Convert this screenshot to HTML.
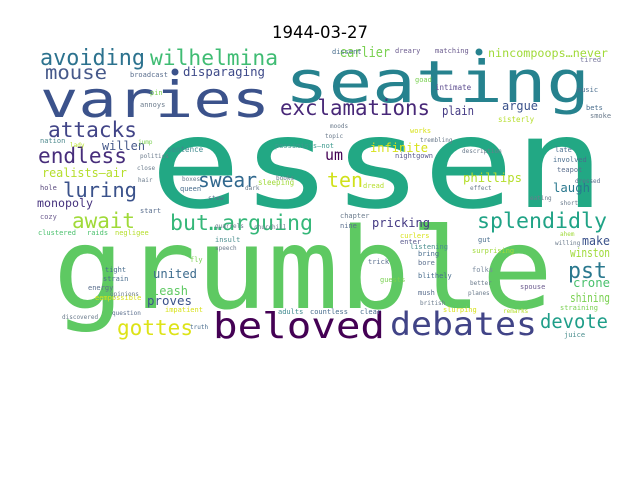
<!DOCTYPE html>
<html><head><meta charset="utf-8">
<style>
html,body{margin:0;padding:0;background:#fff;}
svg{display:block;}
text{font-family:"DejaVu Sans Mono","Liberation Mono",monospace;}
</style></head>
<body>
<svg id="chart" width="640" height="480" viewBox="0 0 640 480" xmlns="http://www.w3.org/2000/svg">
<rect width="640" height="480" fill="#ffffff"/>
<text x="320" y="38" text-anchor="middle" font-size="16.5" fill="#000" style="font-family:'DejaVu Sans','Liberation Sans',sans-serif">1944-03-27</text>
<g id="cloud"></g>
</svg>
<script>
// word cloud data: words, their weights (font size), colours, layout
const words = ["essen","grumble","varies","seating","beloved","debates",
"avoiding","wilhelmina","mouse","disparaging","exclamations","attacks","endless","realists—air","luring","swear","monopoly","willen",
"earlier","nincompoops…never","argue","plain","infinite","um","ten","phillips","laugh",
"await","but…arguing","united","leash","proves","gottes","splendidly","pricking","make","winston","pst","crone","shining","devote",
"broadcast","pin","annoys","nation","sentence","pessimists—not","hole","queen","sleeping","stew","dreary","matching","dissent","goad","intimate","music","bets","tired","sisterly","smoke","nightgown","dread","late","involved","teapot","works","cozy","start","clustered","raids","negligee","insult","fly","tight","strain","energy","impatient","adults","countless","clear","chapter","nine","curlers","enter","listening","bring","trick","bore","blithely","folks","gut","surprising","guests","mush","slurping","spouse","straining","juice","eempossible","question","discovered","opinions","truth","lady","jump","politics","close","hair","books","dark","boxes","dressed","short","eating","effect","description","topic","moods","trembling","british","remarks","planes","better","ahem","willing","quarrels","speech","churchill","frank"];
const weights = [125,112,50,58,36,32,
22,21,19,12.5,21,21,21,12,20,20,11.7,12,
13.8,11.8,12,12,12,15,20,12,12,
21,21.5,12,12,12,21,21.5,12,12,12.5,22,12,12,19.5,
7,7,7,7,7.5,7,7,7,7.5,6.5,7,7,7,7,7.5,7,7,7,7.5,7,7,7,7,7,7,7,7,7,7,7,7,7,7,7,7,7,7,7,7,7,7,7,7,7,7,7,7,7,7,7,7,7,7,7,7,7,7,7,7,6,6,6,6,6,6,6,6,6,6,6,6,6,6,6,6,6,6,6,6,6,6,6,6,6,6,6,6,6,6];
const colors = ["#22a884","#5ec962","#3b528b","#26828e","#440154","#414487",
"#2c728e","#3fbc73","#46598a","#3e4a89","#482878","#414487","#472d7b","#b5de2b","#3b528b","#31688e","#46337e","#46598a",
"#7ad151","#a0da39","#3b528b","#443983","#d8e219","#440154","#d0e11c","#b5de2b","#2a788e",
"#a0da39","#35b779","#3e6c8e","#5ec962","#3b528b","#dde318","#20a386","#443983","#3b528b","#a0da39","#2a788e","#4ac16d","#7ad151","#1f9e89",
"#5b6f8e","#7ad151","#6b7b8c","#4e8a8e","#3e8a8e","#3e9a8e","#5a4a7e","#4a6e8e","#a0da39","#5b6f8e","#6b5b8e","#6b5b8e","#4a6e8e","#7ad151","#5b4b8e","#4a6e8e","#4a6e8e","#7a7a9e","#b5de2b","#6b7b8c","#5b5b8e","#b5de2b","#4a6e8e","#4a6e8e","#5b6f8e","#d8e219","#6b5b8e","#5b6f8e","#4ac16d","#4ac16d","#b5de2b","#4a8e8e","#7ad151","#4a6e8e","#4a6e8e","#5b6f8e","#d8e219","#3e8a8e","#4a6e8e","#4a6e8e","#6b7b8c","#5b6f8e","#d8e219","#5b5b8e","#4a8e8e","#4a6e8e","#5b6f8e","#5b6f8e","#4a6e8e","#7a8a9e","#4a6e8e","#a0da39","#7ad151","#5b6f8e","#d8e219","#6b5b8e","#7ad151","#4a8e8e","#d8e219","#5b6f8e","#6b7b8c","#6b7b8c","#4a6e8e","#b5de2b","#7ad151","#6b7b8c","#6b7b8c","#6b7b8c","#6b7b8c","#6b7b8c","#6b7b8c","#5b6f8e","#6b7b8c","#6b7b8c","#6b7b8c","#6b7b8c","#6b7b8c","#6b7b8c","#6b7b8c","#6b7b8c","#b5de2b","#6b7b8c","#6b7b8c","#a0da39","#6b7b8c","#6b7b8c","#6b7b8c","#6b7b8c","#6b7b8c"];
// layout: [x, baseline, fitted width (0 = natural), rotation]
const layout = [[150,207,455,0],[53,308,500,0],[40,117,230,0],[285,102,305,0],[213,338,172,0],[390,335,147,0],
[40,65,105,0],[150,65,128,0],[45,79,62,0],[183,76,82,0],[280,115,150,0],[48,137,89,0],[38,163,89,0],[42,177,85,0],[63,197,74,0],[198,187,59,0],[37,207,56,0],[102,150,43,0],
[340,57,50,0],[488,57,120,0],[502,110,36,0],[442,115,32,0],[370,152,58,0],[325,160,18,0],[327,187,36,0],[463,182,59,0],[553,192,37,0],
[72,228,63,0],[170,230,143,0],[153,278,44,0],[152,295,36,0],[147,305,45,0],[117,335,76,0],[477,228,130,0],[372,227,58,0],[582,245,28,0],[570,257,40,0],[568,278,39,0],[573,287,37,0],[570,302,40,0],[540,328,68,0],
[130,77,0,0],[150,95,0,0],[140,107,0,0],[40,143,0,0],[167,152,0,0],[275,148,0,0],[40,190,0,0],[180,191,0,0],[258,185,0,0],[208,200,0,0],[395,53,0,0],[435,53,0,0],[332,54,0,0],[415,82,0,0],[435,90,0,0],[577,92,0,0],[586,110,0,0],[580,62,0,0],[498,122,0,0],[590,118,0,0],[395,158,0,0],[363,188,0,0],[555,152,0,0],[553,162,0,0],[557,172,0,0],[410,133,0,0],[40,219,0,0],[140,213,0,0],[38,235,0,0],[87,235,0,0],[115,235,0,0],[215,242,0,0],[190,262,0,0],[105,272,0,0],[103,281,0,0],[88,290,0,0],[165,312,0,0],[278,314,0,0],[310,314,0,0],[360,314,0,0],[340,218,0,0],[340,228,0,0],[400,238,0,0],[400,244,0,0],[410,249,0,0],[418,256,0,0],[368,264,0,0],[418,265,0,0],[418,278,0,0],[472,272,0,0],[478,242,0,0],[472,253,0,0],[380,282,0,0],[418,295,0,0],[443,312,0,0],[520,289,0,0],[560,310,0,0],[564,337,0,0],[95,300,0,0],[112,315,0,0],[62,319,0,0],[110,296,0,0],[190,329,0,0],[70,147,0,0],[138,144,0,0],[140,158,0,0],[137,170,0,0],[138,182,0,0],[276,180,0,0],[245,190,0,0],[182,181,0,0],[575,183,0,0],[560,205,0,0],[530,200,0,0],[470,190,0,0],[462,153,0,0],[325,138,0,0],[330,128,0,0],[420,142,0,0],[420,305,0,0],[503,313,0,0],[468,295,0,0],[470,285,0,0],[560,236,0,0],[555,245,0,0],[215,228,0,0],[215,250,0,0],[254,229,0,0]];
const g = document.getElementById('cloud');
const NS = 'http://www.w3.org/2000/svg';
const n = Math.min(words.length, weights.length, colors.length, layout.length);
for (let i = 0; i < n; i++) {
  const L = layout[i];
  if (!L) continue;
  const t = document.createElementNS(NS, 'text');
  t.setAttribute('x', L[0]);
  t.setAttribute('y', L[1]);
  t.setAttribute('font-size', weights[i]);
  t.setAttribute('fill', colors[i]);
  if (L[2] > 0) { t.setAttribute('textLength', L[2]); t.setAttribute('lengthAdjust', 'spacingAndGlyphs'); }
  if (L[3]) t.setAttribute('transform', 'rotate(' + L[3] + ' ' + L[0] + ' ' + L[1] + ')');
  t.textContent = words[i];
  
  
  g.appendChild(t);
}
const dots = [[175,72,'#3b528b'],[479,52,'#26828e']];
for (const d of dots) {
  const c = document.createElementNS(NS, 'circle');
  c.setAttribute('cx', d[0]); c.setAttribute('cy', d[1]); c.setAttribute('r', 3.5); c.setAttribute('fill', d[2]);
  
  
  g.appendChild(c);
}
</script>
</body></html>
